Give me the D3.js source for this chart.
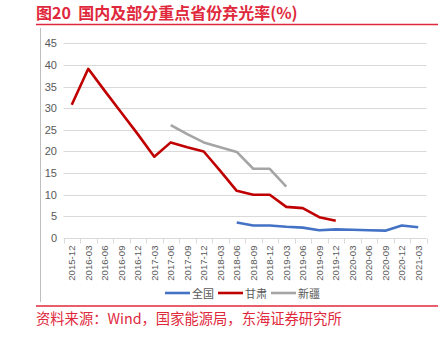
<!DOCTYPE html>
<html>
<head>
<meta charset="utf-8">
<script src="https://cdn.jsdelivr.net/npm/d3@7/dist/d3.min.js"></script>
<style>
  html, body { margin: 0; padding: 0; background: #fff; }
  svg { display: block; font-family: "Noto Sans CJK SC", "Noto Sans", sans-serif; }
  .pre { white-space: pre; }
</style>
</head>
<body>
<svg id="chart" width="446" height="340"></svg>
<script>
// Quarterly periods on the category axis
const periods = ["2015-12","2016-03","2016-06","2016-09","2016-12","2017-03","2017-06","2017-09",
  "2017-12","2018-03","2018-06","2018-09","2018-12","2019-03","2019-06","2019-09","2019-12",
  "2020-03","2020-06","2020-09","2020-12","2021-03"];

// Curtailment rate (%), null where no figure is reported
const national = [null,null,null,null,null,null,null,null,null,null,
  3.6,2.9,2.9,2.6,2.4,1.8,2.0,1.9,1.8,1.7,2.9,2.5];
const gansu = [30.8,39.1,34,29,24,18.8,22.1,21,20,15.5,
  10.9,10,10,7.2,6.9,4.8,4.0,null,null,null,null,null];
const xinjiang = [null,null,null,null,null,null,26.1,24,22.1,21,
  19.9,16,16,11.9,null,null,null,null,null,null,null,null];

const yTicks = [0,5,10,15,20,25,30,35,40,45];
const seriesNames = ["全国","甘肃","新疆"];
const seriesColors = ["#4472c4","#c00000","#a5a5a5"];
const seriesData = [national, gansu, xinjiang];

const svg = d3.select("#chart");
const red = "#e0283c";

// Header
svg.append("text").attr("class", "pre").attr("x", 36).attr("y", 18.5)
  .attr("fill", red).attr("font-size", 16).attr("font-weight", "bold")
  .attr("font-family", "'Noto Sans CJK SC', sans-serif")
  .text("图20  国内及部分重点省份弃光率(%)");
svg.append("line").attr("x1", 36).attr("x2", 438).attr("y1", 24.5).attr("y2", 24.5)
  .attr("stroke", red).attr("stroke-width", 1.6);

// Chart frame left edge
svg.append("line").attr("x1", 40.5).attr("x2", 40.5).attr("y1", 28).attr("y2", 302)
  .attr("stroke", "#bfbfbf").attr("stroke-width", 1);

// Footer
svg.append("line").attr("x1", 36).attr("x2", 438).attr("y1", 306).attr("y2", 306)
  .attr("stroke", red).attr("stroke-width", 1.6);
svg.append("text").attr("x", 36).attr("y", 323.5)
  .attr("fill", red).attr("font-size", 14.3)
  .text("资料来源：Wind，国家能源局，东海证券研究所");

// Plot area
const plotLeft = 63.5, plotRight = 426.5, plotTop = 43.3, plotBottom = 238;
const x = d3.scaleBand().domain(periods).range([plotLeft, plotRight]).padding(0);
const y = d3.scaleLinear().domain([0, 45]).range([plotBottom, plotTop]);

// Gridlines
svg.append("g").selectAll("line").data(yTicks.filter(d => d > 0)).join("line")
  .attr("x1", plotLeft).attr("x2", plotRight)
  .attr("y1", d => Math.round(y(d)) + 0.5).attr("y2", d => Math.round(y(d)) + 0.5)
  .attr("stroke", "#d9d9d9").attr("stroke-width", 1);

// Y axis labels
svg.append("g").selectAll("text").data(yTicks).join("text")
  .attr("x", 57).attr("y", d => y(d) + 4)
  .attr("text-anchor", "end").attr("fill", "#595959").attr("font-size", 11)
  .attr("font-family", "'Liberation Sans', Arial, sans-serif")
  .text(d => d);

// X axis with tick marks between categories
const xAxis = svg.append("g").attr("transform", `translate(0,${Math.round(plotBottom) + 0.5})`);
xAxis.append("line").attr("x1", plotLeft).attr("x2", plotRight)
  .attr("stroke", "#d9d9d9").attr("stroke-width", 1);
const tickPos = periods.map(p => x(p)).concat([plotRight]);
xAxis.selectAll("line.tick").data(tickPos).join("line").attr("class", "tick")
  .attr("x1", d => Math.round(d) + 0.5).attr("x2", d => Math.round(d) + 0.5)
  .attr("y1", 0).attr("y2", 5).attr("stroke", "#d9d9d9");
xAxis.selectAll("text").data(periods).join("text")
  .attr("transform", p => `translate(${x(p) + x.bandwidth() / 2 + 3.5},7) rotate(-90)`)
  .attr("text-anchor", "end").attr("fill", "#595959").attr("font-size", 9.6)
  .attr("font-family", "'Liberation Sans', Arial, sans-serif")
  .text(p => p);

// Series lines
const line = d3.line()
  .defined(d => d.v != null)
  .x(d => x(d.p) + x.bandwidth() / 2)
  .y(d => y(d.v));
seriesData.forEach((vals, i) => {
  const pts = periods.map((p, j) => ({ p, v: vals[j] }));
  svg.append("path").datum(pts).attr("d", line)
    .attr("fill", "none").attr("stroke", seriesColors[i]).attr("stroke-width", 2.6)
    .attr("stroke-linejoin", "round");
});

// Legend
const legend = svg.append("g").attr("transform", "translate(165,293)");
let lx = 0;
seriesNames.forEach((name, i) => {
  const g = legend.append("g").attr("transform", `translate(${lx},0)`);
  g.append("line").attr("x1", 0).attr("x2", 25).attr("stroke", seriesColors[i]).attr("stroke-width", 2.6);
  g.append("text").attr("x", 27).attr("y", 4.5).attr("fill", "#595959").attr("font-size", 11).text(name);
  lx += 53;
});
</script>
</body>
</html>
